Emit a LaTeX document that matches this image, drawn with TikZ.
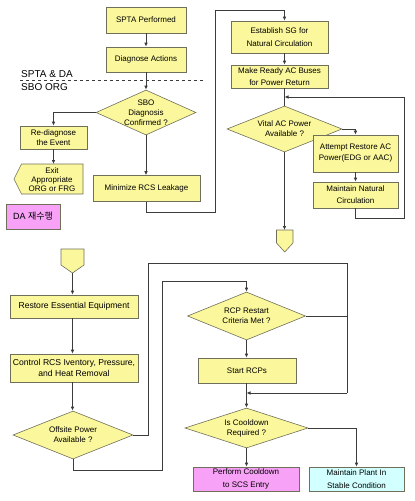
\documentclass[tikz,border=0pt]{standalone}
\usepackage{fontspec}
\setmainfont{Liberation Sans}
\newfontfamily\krfont{Noto Sans CJK KR}
\usetikzlibrary{shapes.geometric,arrows.meta}
\definecolor{yfill}{HTML}{FBF79C}
\definecolor{mfill}{HTML}{F7A1F7}
\definecolor{cfill}{HTML}{D2FFFF}
\definecolor{bcol}{HTML}{70705A}
\definecolor{lcol}{HTML}{3C3C3C}
\tikzset{
  x=1pt, y=-1pt,
  base/.style={draw=bcol, line width=0.6pt, fill=yfill, inner sep=0pt, align=center,
    font=\fontsize{8}{10}\selectfont},
  box/.style={base, rectangle},
  dia/.style={base, diamond},
  dtext/.style={font=\fontsize{8}{10}\selectfont, align=center, inner sep=0pt},
  shp/.style={draw=bcol, line width=0.6pt, fill=yfill},
  conn/.style={draw=lcol, line width=0.9pt},
  arr/.style={conn, -{Latex[length=4pt,width=3.6pt]}},
}
\begin{document}
\begin{tikzpicture}
\useasboundingbox (0,0) rectangle (415,501);
% ---------- top-left ----------
\node[box, minimum width=80pt, minimum height=26pt] (spta) at (146,20) {SPTA Performed};
\node[box, minimum width=80pt, minimum height=25pt] (diag) at (146,59.5) {Diagnose Actions};
\draw[dashed, line width=0.7pt, lcol] (20,80) -- (205,80);
\node[anchor=south west, inner sep=0pt, font=\fontsize{10}{12}\selectfont] (lbl1) at (21,77.5) {SPTA \& DA};
\node[anchor=north west, inner sep=0pt, font=\fontsize{10}{12}\selectfont] (lbl2) at (21,83) {SBO ORG};
\node[dia, minimum width=100pt, minimum height=45pt,
  label={[dtext]center:{SBO\\Diagnosis\\Confirmed ?}}] (sbo) at (146,112.5) {};
\node[box, minimum width=67pt, minimum height=23pt] (redia) at (53.5,137.5) {Re-diagnose\\the Event};
\path[shp] (21.5,164) -- (83,164) -- (83,194) -- (21.5,194) -- (14,179) -- cycle;
\node[dtext, font=\fontsize{8}{9}\selectfont] (exit) at (52,179.5) {Exit\\Appropriate\\ORG or FRG};
\coordinate (exittop) at (53.5,164);
\node[box, minimum width=107pt, minimum height=26pt] (minim) at (146.5,188.5) {Minimize RCS Leakage};
\node[box, fill=mfill, minimum width=54pt, minimum height=25pt, font=\fontsize{9}{11}\selectfont] (da) at (33,216.5) {DA {\krfont 재수행}};
% ---------- top-right ----------
\node[box, minimum width=97pt, minimum height=32pt] (estab) at (279.5,37) {Establish SG for\\[3pt]Natural Circulation};
\node[box, minimum width=97pt, minimum height=23pt] (ready) at (279.5,76.5) {Make Ready AC Buses\\[2pt]for Power Return};
\node[dia, minimum width=115pt, minimum height=46pt,
  label={[dtext]center:{Vital AC Power\\Available ?}}] (vital) at (284.5,129) {};
\node[box, minimum width=85pt, minimum height=37pt] (attempt) at (355.5,153.5) {Attempt Restore AC\\[1pt]Power(EDG or AAC)};
\node[box, minimum width=85pt, minimum height=26pt] (maintN) at (355.5,195) {Maintain Natural\\[2pt]Circulation};
\path[shp] (276.5,230) -- (293,230) -- (293,243) -- (284.75,252) -- (276.5,243) -- cycle;
\coordinate (conn1) at (284.5,230);
\coordinate (m1) at (215,212);
\coordinate (m2) at (284.5,10);
\coordinate (lb) at (404,218);
\coordinate (lj) at (284.5,97);
% ---------- bottom ----------
\path[shp] (61,249) -- (84,249) -- (84,265) -- (72.5,273) -- (61,265) -- cycle;
\coordinate (conn2) at (72.5,273);
\node[box, minimum width=128pt, minimum height=23pt, font=\fontsize{8.6}{10}\selectfont] (restore) at (74,306.5) {Restore Essential Equipment};
\node[box, minimum width=128pt, minimum height=28pt, font=\fontsize{8.6}{10.5}\selectfont] (control) at (74,368) {Control RCS Iventory, Pressure,\\[1pt]and Heat Removal};
\node[dia, minimum width=120pt, minimum height=48pt,
  label={[dtext]center:{Offsite Power\\Available ?}}] (offsite) at (73,435) {};
\node[dia, minimum width=118pt, minimum height=48pt,
  label={[dtext]center:{RCP Restart\\Criteria Met ?}}] (rcp) at (246.5,316) {};
\node[box, minimum width=98pt, minimum height=25pt] (start) at (247,370.5) {Start RCPs};
\node[dia, minimum width=123pt, minimum height=40pt,
  label={[dtext]center:{Is Cooldown\\Required ?}}] (cool) at (246.5,428) {};
\node[box, fill=mfill, minimum width=106pt, minimum height=24pt] (perform) at (246,479) {Perform Cooldown\\[3pt]to SCS Entry};
\node[box, fill=cfill, minimum width=95pt, minimum height=24pt] (maintP) at (356.5,479) {Maintain Plant In\\[3pt]Stable Condition};
\coordinate (o1) at (148,263);
\coordinate (o2) at (347,393);
\coordinate (j2) at (246.5,393);
\coordinate (o3) at (162,470);
\coordinate (o4) at (246.5,281);
% ---------- connectors ----------
\draw[arr] (spta) -- (diag);
\draw[arr] (diag) -- (sbo.north);
\draw[arr] (sbo.west) -| (redia.north);
\draw[arr] (redia.south) -- (exittop);
\draw[arr] (sbo.south) -- (minim.north -| sbo.south);
\draw[conn] (minim.south -| sbo.south) |- (m1) |- (m2);
\draw[arr] (m2) -- (estab.north -| m2);
\draw[arr] (estab.south -| vital) -- (ready.north -| vital);
\draw[conn] (ready.south -| vital) -- (vital.north);
\draw[arr] (vital.east) -| (attempt.north);
\draw[arr] (attempt) -- (maintN);
\draw[conn] (maintN.south) |- (lb) -- (lb |- lj);
\draw[arr] (lb |- lj) -- (lj);
\draw[arr] (vital.south) -- (conn1);
\draw[arr] (conn2) -- (restore.north -| conn2);
\draw[arr] (restore.south -| conn2) -- (control.north -| conn2);
\draw[arr] (control.south -| conn2) -- (offsite.north -| conn2);
\draw[conn] (offsite.east) -| (o1) -| (o2);
\draw[arr] (o2) -- (j2);
\draw[conn] (rcp.east) -- (rcp.east -| o2);
\draw[conn] (offsite.south) |- (o3) |- (o4);
\draw[arr] (o4) -- (rcp.north);
\draw[arr] (rcp.south) -- (start.north -| rcp.south);
\draw[arr] (start.south -| cool) -- (cool.north);
\draw[arr] (cool.east) -| (maintP.north);
\draw[arr] (cool.south) -- (perform.north -| cool.south);
\end{tikzpicture}
\end{document}
